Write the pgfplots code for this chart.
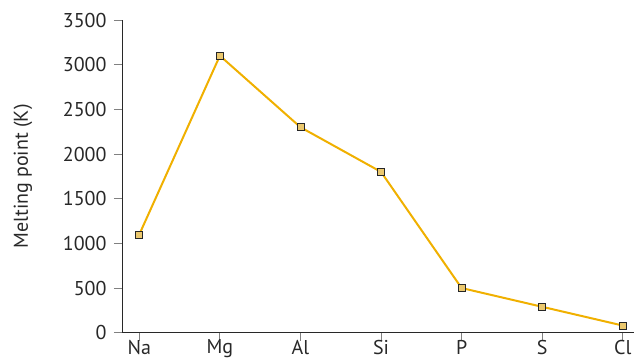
\documentclass[border=0pt]{standalone}
\usepackage{pgfplots}
\pgfplotsset{compat=1.18}
\usepackage{fontspec}
\setmainfont{PT Sans}
\definecolor{lineor}{RGB}{240,176,0}
\definecolor{axgray}{RGB}{40,40,40}
\begin{document}
\begin{tikzpicture}[x=1pt,y=1pt]
\path[use as bounding box] (-122,-29.3) rectangle (512,332.7);
\begin{axis}[
  at={(0,0)}, anchor=south west,
  scale only axis,
  width=512pt, height=312.7pt,
  xmin=-0.215, xmax=6.14,
  ymin=0, ymax=3500,
  axis x line*=bottom, axis y line*=left,
  axis line style={axgray, line width=0.8pt, -},
  xtick={0,...,6},
  xticklabels={Na,Mg,Al,Si,P,S,Cl},
  ytick={0,500,...,3500},
  tick align=outside,
  major tick length=8pt,
  tick style={gray, line width=0.8pt},
  /pgf/number format/assume math mode=true,
  /pgf/number format/1000 sep={},
  tick label style={font=\fontsize{20}{22}\selectfont, text=axgray},
  yticklabel style={xshift=-4pt},
  xticklabel style={yshift=2pt, inner ysep=1pt},
  ylabel={Melting point (K)},
  ylabel style={font=\fontsize{20}{22}\selectfont, text=axgray, at={(-112pt,0.5)}, anchor=north},
  clip=false,
]
\addplot[color=lineor, line width=2pt, mark=square*,
  mark size=3.5pt,
  mark options={draw=black!85, fill={rgb,255:red,235;green,200;blue,110}, line width=0.7pt}]
  coordinates {(0,1100) (1,3100) (2,2300) (3,1800) (4,500) (5,290) (6,80)};
\end{axis}
\end{tikzpicture}
\end{document}
